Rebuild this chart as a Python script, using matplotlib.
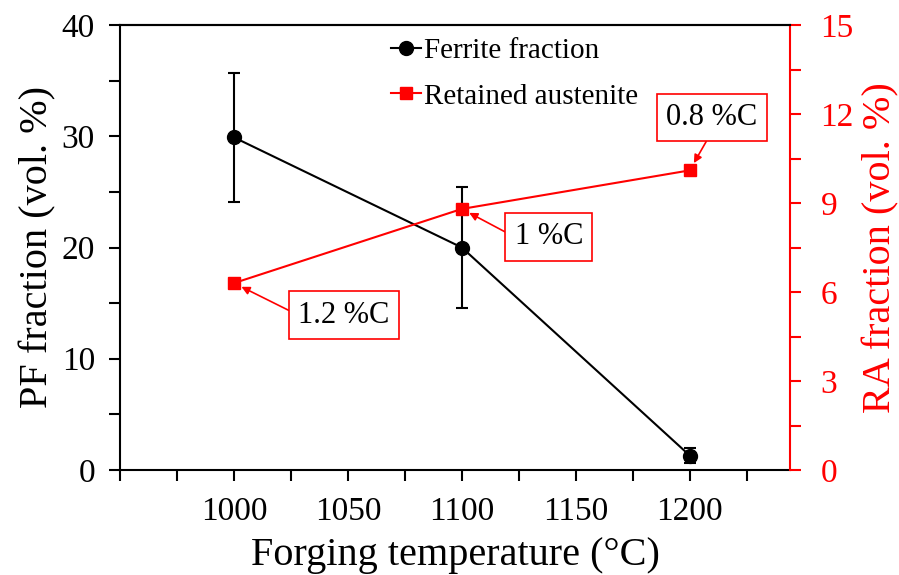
import matplotlib
matplotlib.use("Agg")
import matplotlib.pyplot as plt
from matplotlib.lines import Line2D
from matplotlib.ticker import MultipleLocator, FixedLocator, FuncFormatter

plt.rcParams['font.family'] = ['Liberation Serif', 'DejaVu Serif']

temps = [1000, 1100, 1200]
ferrite = [29.9, 20.0, 1.3]
ferrite_err = [5.8, 5.4, 0.7]
ra = [6.3, 8.8, 10.1]
ra_labels = ["1.2 %C", "1 %C", "0.8 %C"]
label_offsets = [(110, -32), (87, -28), (22, 53)]  # in pixels
arrow_relpos = [(0, 0.5), (0, 0.5), (0.5, 0)]

fig = plt.figure(figsize=(8.99, 5.75), dpi=100)
ax = fig.add_axes([120/899, 1-470/575, (790-120)/899, (470-25)/575])
ax2 = ax.twinx()

red = '#ff0000'
ax.errorbar(temps, ferrite, yerr=ferrite_err, color='black', marker='o', ms=10,
            lw=1.5, capsize=4, elinewidth=1.5, capthick=1.5, zorder=3)
ax2.plot(temps, ra, color=red, marker='s', ms=8.5, lw=1.5)

ax.set_xlim(950, 1244)
ax.set_ylim(0, 40)
ax2.set_ylim(0, 15)

ax.xaxis.set_major_locator(FixedLocator([950 + 25*i for i in range(12)]))
ax.xaxis.set_major_formatter(FuncFormatter(
    lambda v, p: f"{int(round(v))}" if (round(v) % 50 == 0 and 1000 <= v <= 1200) else ""))
ax.yaxis.set_major_locator(MultipleLocator(10))
ax.yaxis.set_minor_locator(MultipleLocator(5))
ax2.yaxis.set_major_locator(MultipleLocator(3))
ax2.yaxis.set_minor_locator(MultipleLocator(1.5))

ax.tick_params(axis='both', which='both', direction='out', width=1.5, labelsize=24)
ax.tick_params(axis='both', which='major', length=8)
ax.tick_params(axis='y', which='minor', length=8)
ax.tick_params(axis='y', pad=10)
ax.tick_params(axis='x', pad=11)
ax2.tick_params(axis='y', which='both', direction='out', width=1.5, length=8,
                colors=red, labelsize=24, pad=14)

for s in ['left', 'bottom', 'top']:
    ax.spines[s].set_linewidth(1.5)
ax2.spines['right'].set_color(red)
ax2.spines['right'].set_linewidth(1.5)
ax2.spines['left'].set_visible(False)
ax2.spines['top'].set_linewidth(1.5)
ax2.spines['bottom'].set_visible(False)
ax.spines['right'].set_visible(False)

ax.set_xlabel('Forging temperature (°C)', fontsize=29, labelpad=7)
ax.set_ylabel('PF fraction (vol. %)', fontsize=29, labelpad=4)
ax2.set_ylabel('RA fraction (vol. %)', fontsize=29, color=red, labelpad=6)

for x, y, t, off, rp in zip(temps, ra, ra_labels, label_offsets, arrow_relpos):
    ax2.annotate(t, xy=(x, y), xytext=off, textcoords='offset pixels',
                 fontsize=22, ha='center', va='center',
                 bbox=dict(boxstyle='square,pad=0.3', fc='white', ec=red, lw=1.2),
                 arrowprops=dict(arrowstyle='-|>', color=red, lw=1.2, mutation_scale=12,
                                 shrinkA=0, shrinkB=6, relpos=rp))

h1 = Line2D([], [], color='black', marker='o', ms=10, lw=1.5)
h2 = Line2D([], [], color=red, marker='s', ms=8.5, lw=1.5)
ax2.legend([h1, h2], ['Ferrite fraction', 'Retained austenite'], loc='upper left',
           bbox_to_anchor=(0.366, 1.03), frameon=False, fontsize=21,
           handlelength=1.0, handletextpad=0.1, labelspacing=0.65, borderpad=0.4)

fig.savefig('out.png', dpi=100)
